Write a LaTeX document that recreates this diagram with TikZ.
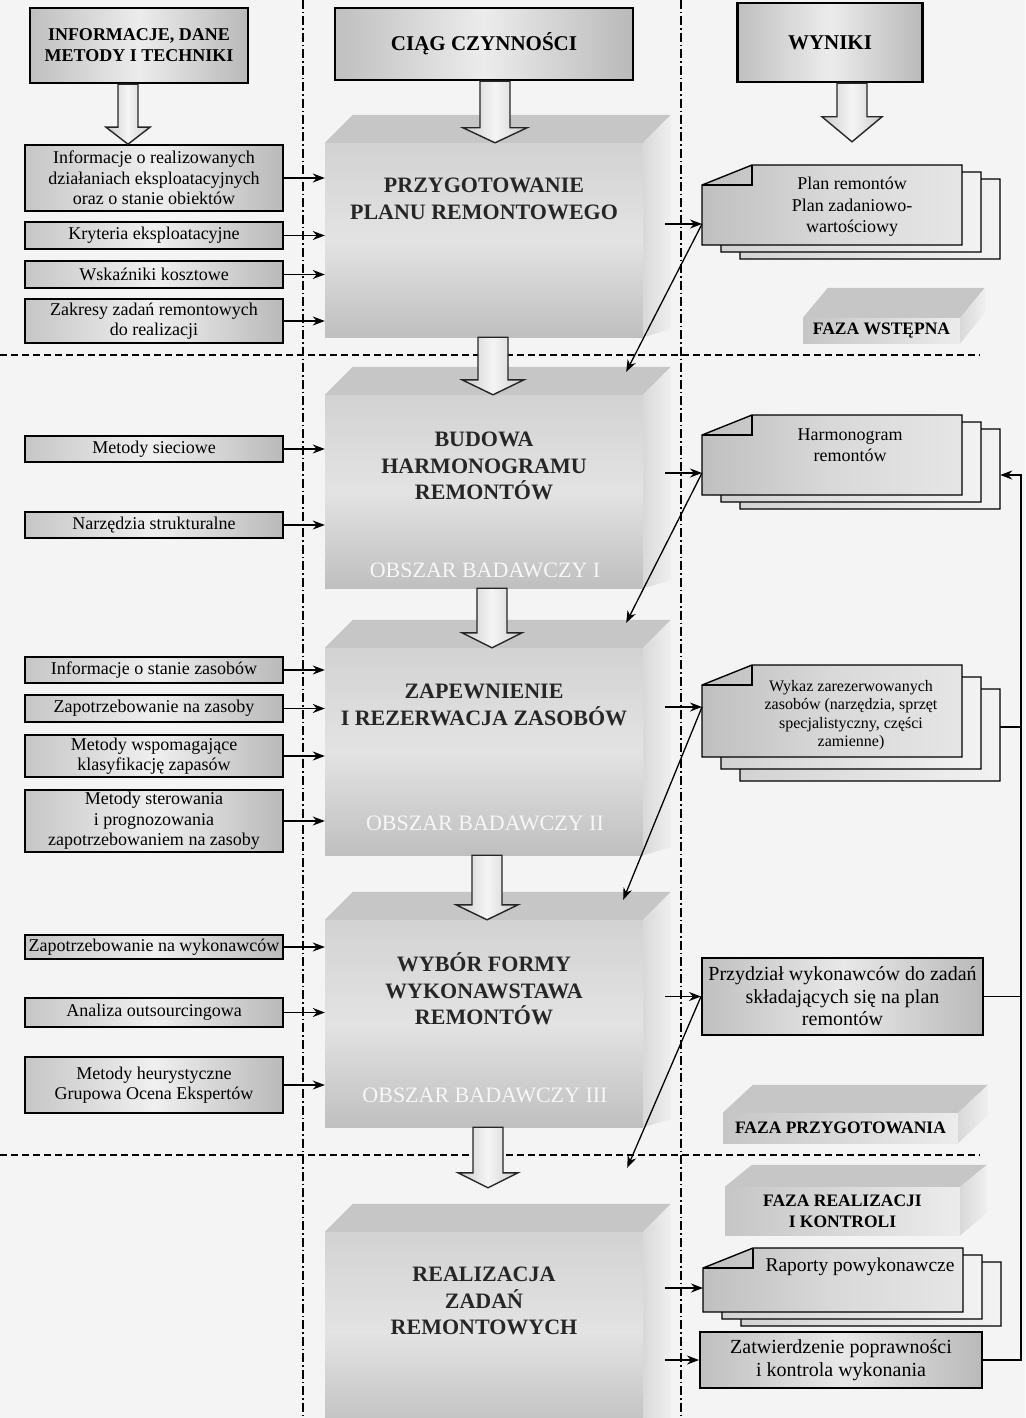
\documentclass[tikz,border=0pt]{standalone}
\usepackage{fontspec}
\setmainfont{Liberation Serif}
\usetikzlibrary{arrows.meta,calc}

\begin{document}
\begin{tikzpicture}
[x=1pt,y=-1pt,
  pagedecorate/.style={fill=gray!9},
  columndecorate/.style={line width=1.3pt,dash pattern=on 9pt off 3pt on 1.5pt off 3pt},
  phasedecorate/.style={line width=1.3pt,dash pattern=on 7pt off 4pt},
  headdecorate/.style={draw,line width=2.2pt,left color=gray!50,right color=gray!55,middle color=gray!15,
    align=center,font=\bfseries\fontsize{18}{21}\selectfont},
  inputdecorate/.style={draw,line width=1.6pt,left color=gray!45,right color=gray!55,middle color=gray!12,
    minimum width=258pt,inner sep=0pt,align=center,font=\fontsize{18}{20.5}\selectfont},
  stepdecorate/.style={top color=gray!35,bottom color=gray!50,middle color=gray!22,minimum width=318pt,inner sep=0pt},
  topdecorate/.style={fill=gray!45},
  sidedecorate/.style={left color=gray!30,right color=gray!12},
  titledecorate/.style={align=center,font=\bfseries\fontsize{22}{26.5}\selectfont,text=black!85},
  areadecorate/.style={font=\fontsize{22}{26}\selectfont,text=gray!6},
  sheetdecorate/.style={draw,line width=1.4pt,left color=gray!35,right color=gray!10},
  docdecorate/.style={draw,line width=1.4pt,left color=gray!50,right color=gray!20,middle color=gray!30},
  outdecorate/.style={draw,line width=2pt,left color=gray!50,right color=gray!55,middle color=gray!18,
    inner sep=0pt,align=center,font=\fontsize{20}{22.5}\selectfont},
  slabdecorate/.style={left color=gray!45,right color=gray!15,inner sep=0pt,align=center,
    font=\bfseries\fontsize{17.5}{21}\selectfont},
  bigarrowdecorate/.style={draw=black!85,line width=1.4pt,left color=gray!40,right color=gray!40,middle color=gray!8},
  linkdecorate/.style={->,>={Stealth[length=12pt,width=9pt]},line width=1.3pt}]
%% page and separators
\useasboundingbox (0,0) rectangle (1025,1418);
\fill[pagedecorate] (0,0) rectangle (1025,1418);
\draw[columndecorate] (303,0) -- (303,1418);
\draw[columndecorate] (681,0) -- (681,1418);
\draw[phasedecorate] (0,355) -- (980,355);
\draw[phasedecorate] (0,1155) -- (980,1155);

%% column heads
\node (hinfo) at (139,45.5) [headdecorate,minimum width=218pt,minimum height=75pt] {INFORMACJE, DANE\\METODY I TECHNIKI};
\node (hciag) at (484,44) [headdecorate,minimum width=298pt,minimum height=72pt,font=\bfseries\fontsize{21}{24}\selectfont] {CIĄG CZYNNOŚCI};
\node (hwyn) at (830,42.5) [headdecorate,minimum width=185pt,minimum height=79pt,font=\bfseries\fontsize{21}{24}\selectfont] {WYNIKI};

%% process steps (front, top and side faces)
\foreach \nodename/\ya/\yb in {p1/143/337, p2/395/588, p3/648/855, p4/920/1127, p5/1232/1432} {
  \node (\nodename) at (484,{(\ya+\yb)/2}) [stepdecorate,minimum height=\yb-\ya] {};
  \fill[topdecorate] (\nodename.north west) -- ++(28,-28) -- ++(318,0) -- (\nodename.north east) -- cycle;
  \shade[sidedecorate] (\nodename.north east) -- ++(28,-28) -- ($(\nodename.south east)+(28,-8)$)
    -- (\nodename.south east) -- cycle;
}
\foreach \nodename/\ty/\txt in {
  p1/199/{PRZYGOTOWANIE\\PLANU REMONTOWEGO},
  p2/466/{BUDOWA\\HARMONOGRAMU\\REMONTÓW},
  p3/705/{ZAPEWNIENIE\\I REZERWACJA ZASOBÓW},
  p4/989/{WYBÓR FORMY\\WYKONAWSTAWA\\REMONTÓW},
  p5/1301/{REALIZACJA\\ZADAŃ\\REMONTOWYCH}}
  \node (\nodename-title) at (484,\ty) [titledecorate] {\txt};
\foreach \nodename/\ty/\num in {p2/570/I, p3/823/II, p4/1095/III}
  \node (\nodename-area) at (485,\ty) [areadecorate] {OBSZAR BADAWCZY \num};

%% inputs
\foreach \nodename/\yc/\hh/\txt in {
  l1/178/66/{Informacje o realizowanych\\działaniach eksploatacyjnych\\oraz o stanie obiektów},
  l2/235.5/27/{Kryteria eksploatacyjne},
  l3/274.5/27/{Wskaźniki kosztowe},
  l4/321/44/{Zakresy zadań remontowych\\do realizacji},
  l5/449/26/{Metody sieciowe},
  l6/525/26/{Narzędzia strukturalne},
  l7/670/26/{Informacje o stanie zasobów},
  l8/708.5/27/{Zapotrzebowanie na zasoby},
  l9/756/42/{Metody wspomagające\\klasyfikację zapasów},
  l10/821/62/{Metody sterowania\\i prognozowania\\zapotrzebowaniem na zasoby},
  l11/947/24/{Zapotrzebowanie na wykonawców},
  l12/1012.5/29/{Analiza outsourcingowa},
  l13/1085/56/{Metody heurystyczne\\Grupowa Ocena Ekspertów}}
  \node (\nodename) at (154,\yc) [inputdecorate,minimum height=\hh] {\txt};
\path
\foreach \startnode/\endnode in {l1/p1, l2/p1, l3/p1, l4/p1, l5/p2, l6/p2,
  l7/p3, l8/p3, l9/p3, l10/p3, l11/p4, l12/p4, l13/p4} {
  (\startnode.east) edge[linkdecorate] (\startnode.east -| \endnode.west)
};

%% results: stacks of sheets with a folded corner
\foreach \nodename/\xa/\ya/\xb/\yb/\dy/\iy/\tx/\ty/\fs/\lh/\txt in {
  d1/702/165/962/245/7/224/20/207/18/21.5/{Plan remontów\\Plan zadaniowo-\\wartościowy},
  d2/702/415/962/495/7/473/18/445/18/20.5/{Harmonogram\\remontów},
  d3/702/665/962/757/12/707/19/715/16/18.5/{Wykaz zarezerwowanych\\zasobów (narzędzia, sprzęt\\specjalistyczny, części\\zamienne)},
  d4/703/1248/963/1312/7/1288/27/1267/19.5/22/{Raporty powykonawcze}} {
  \foreach \k in {2,1}
    \shade[sheetdecorate] (\xa+19*\k,\ya+\dy*\k+20) -- (\xa+19*\k+50,\ya+\dy*\k) -- (\xb+19*\k,\ya+\dy*\k)
      -- (\xb+19*\k,\yb+\dy*\k) -- (\xa+19*\k,\yb+\dy*\k) -- cycle;
  \shade[docdecorate] (\xa,\ya+20) -- (\xa+50,\ya) -- (\xb,\ya) -- (\xb,\yb) -- (\xa,\yb) -- cycle;
  \draw[line width=1.2pt] (\xa,\ya+20) -- (\xa+50,\ya+20) -- (\xa+50,\ya);
  \node (\nodename) at ({(\xa+\xb)/2},{(\ya+\yb)/2}) [minimum width=\xb-\xa,minimum height=\yb-\ya] {};
  \node (\nodename-text) at ({(\xa+\xb)/2+\tx},\ty) [align=center,font=\fontsize{\fs}{\lh}\selectfont] {\txt};
  \coordinate (\nodename-in) at (\xa,\iy);
}
\node (prz) at (842.5,996.5) [outdecorate,minimum width=281pt,minimum height=77pt]
  {Przydział wykonawców do zadań\\składających się na plan\\remontów};
\node (zat) at (841,1360) [outdecorate,minimum width=282pt,minimum height=56pt]
  {Zatwierdzenie poprawności\\i kontrola wykonania};

%% phases
\foreach \nodename/\xa/\ya/\xb/\yb/\dx/\dy/\txt in {
  s1/803/318/960/343/25/30/{FAZA WSTĘPNA},
  s2/723/1113/958/1143/30/28/{FAZA PRZYGOTOWANIA},
  s3/725/1187/960/1235/27/22/{FAZA REALIZACJI\\I KONTROLI}} {
  \node (\nodename) at ({(\xa+\xb)/2},{(\ya+\yb)/2}) [slabdecorate,minimum width=\xb-\xa,minimum height=\yb-\ya] {\txt};
  \fill[topdecorate] (\nodename.north west) -- ++(\dx,-\dy) -- ++(\xb-\xa,0) -- (\nodename.north east) -- cycle;
  \shade[sidedecorate] (\nodename.north east) -- ++(\dx,-\dy) -- ++(0,\yb-\ya) -- (\nodename.south east) -- cycle;
}

%% block arrows
\coordinate (d1top) at ([yshift=23pt]d1.north);
\coordinate (p5top) at ([yshift=44pt]p5.north);
\foreach \ax/\from/\to/\sw/\hw/\hl in {
  128/hinfo.south/l1.north/10/22/17, 495/hciag.south/p1.north/15/32/15,
  852/hwyn.south/d1top/15/30/25, 493/p1.south/p2.north/15/31/15,
  492/p2.south/p3.north/15/30/15, 487/p3.south/p4.north/15/31/15,
  488/p4.south/p5top/15/30/15} {
  \draw[bigarrowdecorate] let \p1=(\from), \p2=(\to) in
    (\ax-\sw,\y1) -- (\ax-\sw,\y2+\hl) -- (\ax-\hw,\y2+\hl) -- (\ax,\y2)
    -- (\ax+\hw,\y2+\hl) -- (\ax+\sw,\y2+\hl) -- (\ax+\sw,\y1) -- cycle;
}

%% links to the results and back to the next step
\foreach \startnode/\endnode in {p1/d1-in, p2/d2-in, p3/d3-in, p4/prz.west, p5/d4-in, p5/zat.west}
  \draw[linkdecorate] (\startnode.east |- \endnode) ++(22,0) -- (\endnode);
\foreach \startnode/\endnode/\dx/\dy in {d1-in/p2/-17/-23, d2-in/p3/-17/-25, d3-in/p4/-20/-20, prz.west/p5/-16/-64}
  \draw[linkdecorate] (\startnode) -- ([shift={(\dx,\dy)}]\endnode.north east);

%% feedback line
\coordinate (fbin) at ([shift={(38,20)}]d2.east);
\coordinate (fbout) at ([shift={(38,16)}]d3.east);
\coordinate (fbx) at ([xshift=38pt]zat.east);
\draw[linkdecorate] (zat.east) -- (fbx) |- (fbin);
\draw[line width=1.3pt] (fbout) -- (fbout -| fbx);
\draw[line width=1.3pt] (prz.east) -- (prz.east -| fbx);
\end{tikzpicture}
\end{document}
